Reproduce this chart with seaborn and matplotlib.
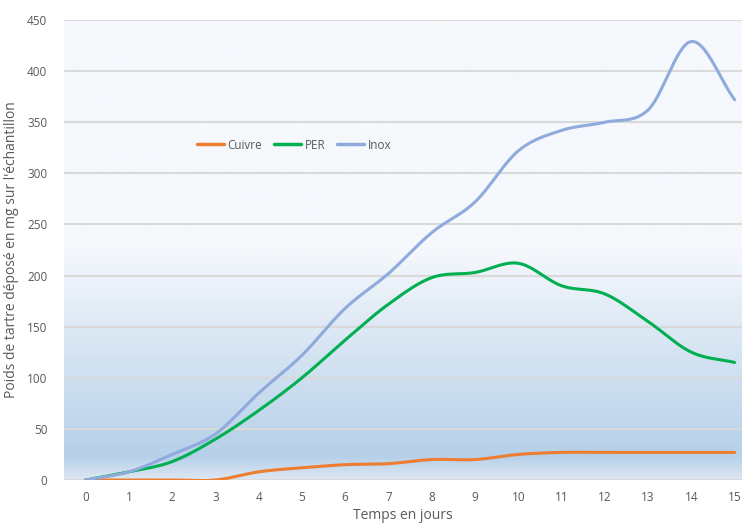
import numpy as np
import pandas as pd
import matplotlib
matplotlib.use("Agg")
import matplotlib.pyplot as plt
from matplotlib.colors import LinearSegmentedColormap
import seaborn as sns

# Data
jours = list(range(16))
cuivre = [0, 0, 0, 0, 8, 12, 15, 16, 20, 20, 25, 27, 27, 27, 27, 27]
per = [0, 8, 18, 40, 68, 100, 137, 172, 198, 203, 212, 190, 182, 155, 125, 115]
inox = [0, 8, 25, 45, 85, 122, 168, 202, 242, 272, 322, 342, 350, 362, 429, 372]
series_names = ["Cuivre", "PER", "Inox"]
series_colors = ["#ED7D31", "#00B050", "#8FAADC"]


def smooth(x, y, n=20):
    # Catmull-Rom curve through the points, like Excel's smoothed lines
    x = np.asarray(x, float)
    y = np.asarray(y, float)
    px = np.concatenate([[2 * x[0] - x[1]], x, [2 * x[-1] - x[-2]]])
    py = np.concatenate([[2 * y[0] - y[1]], y, [2 * y[-1] - y[-2]]])
    xs, ys = [], []
    t = np.linspace(0, 1, n, endpoint=False)
    for i in range(1, len(px) - 2):
        for p, out in ((px, xs), (py, ys)):
            p0, p1, p2, p3 = p[i - 1], p[i], p[i + 1], p[i + 2]
            out.extend(0.5 * (2 * p1 + (-p0 + p2) * t
                              + (2 * p0 - 5 * p1 + 4 * p2 - p3) * t ** 2
                              + (-p0 + 3 * p1 - 3 * p2 + p3) * t ** 3))
    xs.append(x[-1])
    ys.append(y[-1])
    return np.array(xs), np.array(ys)


frames = []
for name, vals in zip(series_names, [cuivre, per, inox]):
    sx, sy = smooth(jours, vals)
    frames.append(pd.DataFrame({"jour": sx, "poids": sy, "serie": name}))
df = pd.concat(frames, ignore_index=True)

sns.set_style("white")
plt.rcParams["font.family"] = ["Open Sans", "DejaVu Sans"]

fig = plt.figure(figsize=(7.42, 5.25), dpi=100)
ax = fig.add_axes([64 / 742, 45 / 525, 678 / 742, 460 / 525])

# gradient background of the plot area
grad_cmap = LinearSegmentedColormap.from_list(
    "bg", [(0, "#DDE7F3"), (0.05, "#B6D0E9"), (0.5, "#F5F8FC"), (1, "#F5F8FC")])
grad = np.linspace(0, 1, 256).reshape(-1, 1)
ax.imshow(grad, cmap=grad_cmap, aspect="auto", origin="lower",
          extent=[0, 1, 0, 1], transform=ax.transAxes, zorder=0)

sns.lineplot(data=df, x="jour", y="poids", hue="serie", palette=series_colors,
             hue_order=series_names, linewidth=2.2, sort=False, ax=ax, zorder=3)

ax.set_xlim(-0.5, 15.17)
ax.set_ylim(0, 450)
ax.set_xticks(jours)
ax.set_yticks(range(0, 451, 50))
ax.yaxis.grid(True, color="#D9D9D9", linewidth=1.5, zorder=1)
ax.set_axisbelow(True)
for s in ax.spines.values():
    s.set_visible(False)
ax.tick_params(axis="both", colors="#595959", labelsize=8.5, length=0, pad=8)
ax.tick_params(axis="y", pad=12)

ax.set_xlabel("Temps en jours", color="#595959", fontsize=10, labelpad=3)
ax.set_ylabel("Poids de tartre déposé en mg sur l'échantillon", color="#595959",
              fontsize=10, labelpad=6)

leg = ax.legend(loc="center left", bbox_to_anchor=(0.18, 0.728), ncol=3,
                frameon=False, fontsize=8.5, handlelength=2.3, handletextpad=0.3,
                columnspacing=1.0, labelcolor="#595959")
for h in leg.get_lines():
    h.set_linewidth(2.5)

fig.savefig("out.png", dpi=100)
